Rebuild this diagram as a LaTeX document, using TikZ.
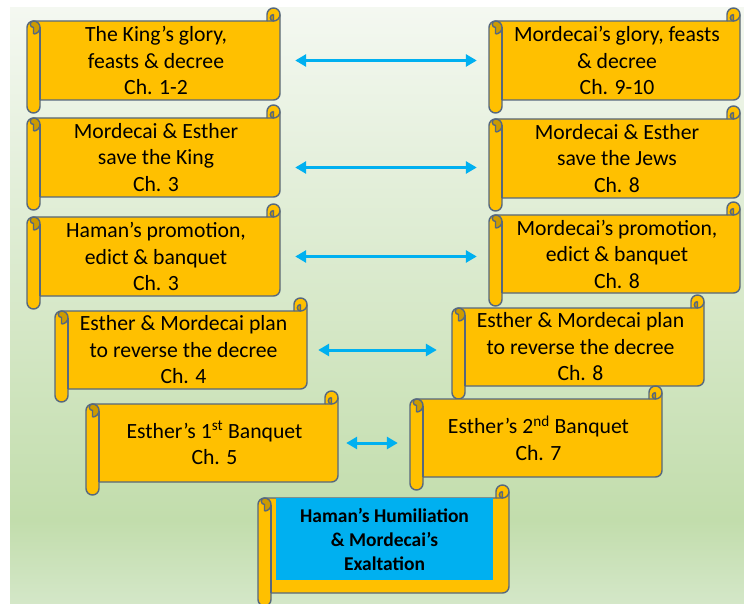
\documentclass[tikz,border=0pt]{standalone}
\usepackage{fontspec}
\setmainfont{Carlito}
\usetikzlibrary{arrows.meta}

\definecolor{scrollgold}{HTML}{FFC000}
\definecolor{scrolldark}{HTML}{CC9A00}
\definecolor{scrolledge}{HTML}{56687E}
\definecolor{arrowblue}{HTML}{00B0F0}
\definecolor{bgtop}{HTML}{F4F8F1}
\definecolor{bgmid}{HTML}{C2DDAC}
\definecolor{bgbot}{HTML}{D4E7C8}

\newcommand{\scrollch}{13}
% scroll outline: left, top, right, bottom
\newcommand{\scrollshape}[4]{%
  \draw[scrollline, fill=scrollgold]
    (#1,{#2+1.5*\scrollch}) arc[start angle=180, end angle=270, radius=\scrollch/2]
    -- ({#3-\scrollch},{#2+\scrollch}) -- ({#3-\scrollch},{#2+\scrollch/2})
    arc[start angle=180, end angle=360, radius=\scrollch/2]
    -- (#3,{#4-1.5*\scrollch}) arc[start angle=0, end angle=90, radius=\scrollch/2]
    -- ({#1+\scrollch},{#4-\scrollch}) -- ({#1+\scrollch},{#4-\scrollch/2})
    arc[start angle=0, end angle=180, radius=\scrollch/2] -- cycle;
  \draw[scrollline, fill=scrolldark]
    ({#3-\scrollch/2},{#2+\scrollch/2}) -- ({#3-\scrollch/2},{#2+\scrollch})
    arc[start angle=90, end angle=270, radius=\scrollch/4];
  \draw[scrollline] ({#3-\scrollch},{#2+\scrollch}) -- ({#3-\scrollch/2},{#2+\scrollch})
    arc[start angle=90, end angle=0, radius=\scrollch/2];
  \draw[scrollline, fill=scrolldark]
    ({#1+\scrollch/2},{#2+2*\scrollch}) -- ({#1+\scrollch/2},{#2+1.5*\scrollch})
    arc[start angle=90, end angle=270, radius=\scrollch/4]
    arc[start angle=270, end angle=450, radius=\scrollch/2];
  \draw[scrollline] ({#1+\scrollch},{#2+1.5*\scrollch}) -- ({#1+\scrollch},{#4-\scrollch});
}

\begin{document}
\begin{tikzpicture}[
            x = 1pt, y = -1pt,
            scrollline/.style={draw=scrolledge, line width=1.4pt, line join=round},
            txt/.style={align=center, inner sep=0pt, minimum width=226pt,
                        font=\fontsize{21.7}{26.5}\selectfont},
            climaxbox/.style={fill=arrowblue, inner sep=0pt, align=center,
                        minimum width=217pt, minimum height=82pt,
                        font=\bfseries\fontsize{19.5}{24}\selectfont},
            link/.style={arrowblue, line width=3pt,
                        {Triangle[length=11pt,width=12pt]}-{Triangle[length=11pt,width=12pt]}},
            ]

        \useasboundingbox (0,0) rectangle (744,604);
        \shade[top color=bgtop, bottom color=bgmid] (10,8) rectangle (744,520);
        \shade[top color=bgmid, bottom color=bgbot] (10,520) rectangle (744,604);

        \scrollshape{27}{8}{280}{113}
        \node[txt] (glory) at (156,60.5) {The King’s glory,\\feasts \& decree\\Ch. 1-2};
        \scrollshape{489}{8}{740}{113}
        \node[txt] (mglory) at (617,60.5) {Mordecai’s glory, feasts\\\& decree\\Ch. 9-10};

        \scrollshape{27}{105}{280}{210}
        \node[txt] (saveking) at (156,157.5) {Mordecai \& Esther\\save the King\\Ch. 3};
        \scrollshape{489}{106}{740}{211}
        \node[txt] (savejews) at (617,158.5) {Mordecai \& Esther\\save the Jews\\Ch. 8};

        \scrollshape{27}{204}{280}{309}
        \node[txt] (hpromo) at (156,256.5) {Haman’s promotion,\\edict \& banquet\\Ch. 3};
        \scrollshape{489}{202}{740}{306}
        \node[txt] (mpromo) at (617,254) {Mordecai’s promotion,\\edict \& banquet\\Ch. 8};

        \scrollshape{55}{298}{307}{402}
        \node[txt] (plan4) at (183.5,350) {Esther \& Mordecai plan\\to reverse the decree\\Ch. 4};
        \scrollshape{452}{295}{704}{399}
        \node[txt] (plan8) at (580.5,347) {Esther \& Mordecai plan\\to reverse the decree\\Ch. 8};

        \scrollshape{86}{391}{338}{495}
        \node[txt] (banq1) at (214.5,443) {Esther’s 1\textsuperscript{st} Banquet\\Ch. 5};
        \scrollshape{410}{386}{662}{490}
        \node[txt] (banq2) at (538.5,438) {Esther’s 2\textsuperscript{nd} Banquet\\Ch. 7};

        \scrollshape{258}{485}{509}{606}
        \node[climaxbox] (climax) at (384.5,539) {Haman’s Humiliation\\\& Mordecai’s\\Exaltation};

        \draw[link, shorten <=26pt, shorten >=27pt] (glory.east) -- (glory.east -| mglory.west);
        \draw[link, shorten <=26pt, shorten >=27pt] ([yshift=-10pt]saveking.east) -- ([yshift=-10pt]saveking.east -| savejews.west);
        \draw[link, shorten <=26pt, shorten >=27pt] (hpromo.east) -- (hpromo.east -| mpromo.west);
        \draw[link, shorten <=21.5pt, shorten >=30.5pt] (plan4.east) -- (plan4.east -| plan8.west);
        \draw[link, shorten <=18.5pt, shorten >=27.5pt] (banq1.east) -- (banq1.east -| banq2.west);
    \end{tikzpicture}
\end{document}
